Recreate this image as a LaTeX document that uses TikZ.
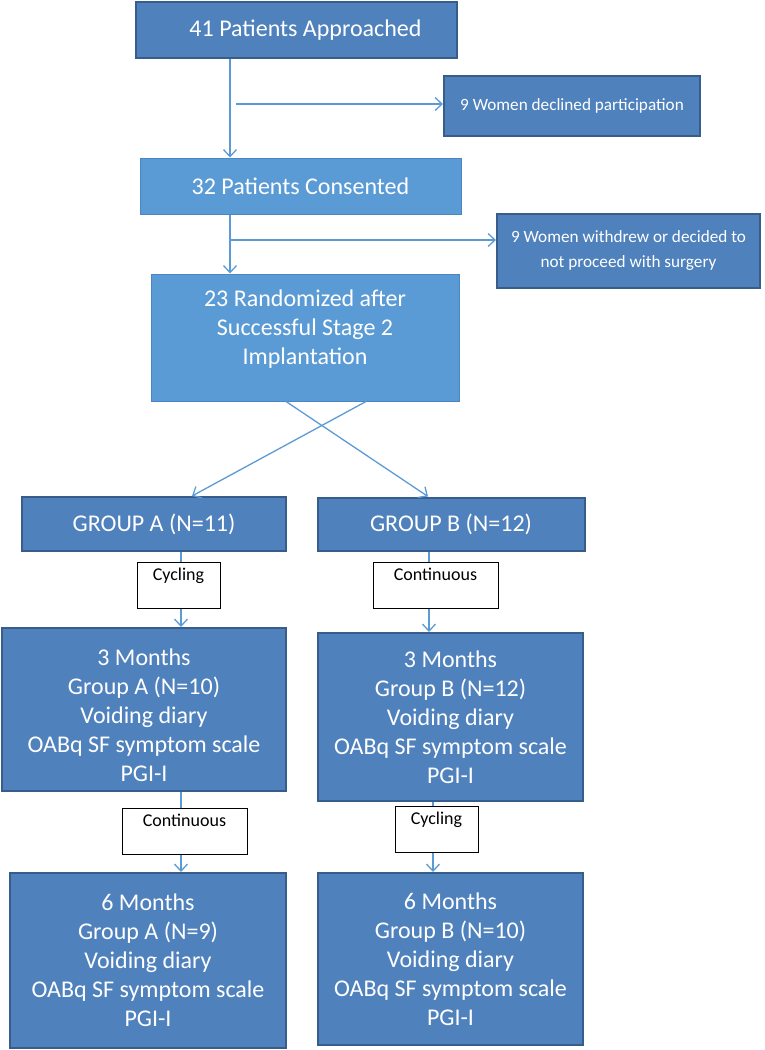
\documentclass[tikz,border=0pt]{standalone}
\usepackage{fontspec}
\setmainfont{Carlito}
\usetikzlibrary{arrows.meta}
\definecolor{darkfill}{HTML}{4F81BD}
\definecolor{darkline}{HTML}{385D8A}
\definecolor{lightfill}{HTML}{5B9BD5}
\definecolor{lightline}{HTML}{4A86C3}
\definecolor{arrowcol}{HTML}{5B9BD5}
\tikzset{
  darkbox/.style={draw=darkline, line width=2pt, fill=darkfill, text=white, align=center,
    inner sep=2pt, font=\fontsize{24}{29}\selectfont},
  smallbox/.style={darkbox, font=\fontsize{17.2}{25}\selectfont},
  lightbox/.style={draw=lightline, line width=1pt, fill=lightfill, text=white, align=center,
    inner sep=2pt, font=\fontsize{24}{29}\selectfont},
  modebox/.style={draw=black, line width=0.8pt, fill=white, text=black, inner sep=4pt,
    font=\fontsize{18}{20}\selectfont, text height=14pt, text depth=24pt},
  arr/.style={draw=arrowcol, line width=1.3pt, -{Straight Barb[length=7pt,width=13pt]}}
}
\begin{document}
\begin{tikzpicture}[x=1pt,y=-1pt]
            \useasboundingbox (0,0) rectangle (765,1050);
            % enrolment
            \node[darkbox, minimum width=321, minimum height=56] (appr) at (296.5,30) {\hspace*{18pt}41 Patients Approached};
            \node[smallbox, minimum width=256, minimum height=60] (decl) at (572,106) {9 Women declined participation};
            \node[lightbox, minimum width=321, minimum height=56] (cons) at (300.5,186) {32 Patients Consented};
            \node[smallbox, minimum width=263, minimum height=74] (wdrw) at (628.5,251) {9 Women withdrew or decided to\\not proceed with surgery};
            \node[lightbox, minimum width=308, minimum height=127] (rand) at (305,337.5) {23 Randomized after\\Successful Stage 2\\Implantation\\[-9pt]\mbox{}};
            % groups
            \node[darkbox, minimum width=264, minimum height=54] (grpA) at (154,524) {GROUP A (N=11)};
            \node[darkbox, minimum width=267, minimum height=53] (grpB) at (451,524) {GROUP B (N=12)};
            \node[darkbox, minimum width=284, minimum height=163] (mthA3) at (144,709.5) {\mbox{}\\3 Months\\Group A (N=10)\\Voiding diary\\OABq SF symptom scale\\PGI-I};
            \node[darkbox, minimum width=265, minimum height=168] (mthB3) at (450.5,717) {3 Months\\Group B (N=12)\\Voiding diary\\OABq SF symptom scale\\PGI-I};
            \node[darkbox, minimum width=276, minimum height=175] (mthA6) at (148,960.5) {6 Months\\Group A (N=9)\\Voiding diary\\OABq SF symptom scale\\PGI-I};
            \node[darkbox, minimum width=265, minimum height=172] (mthB6) at (450.5,959) {6 Months\\Group B (N=10)\\Voiding diary\\OABq SF symptom scale\\PGI-I};
            % connectors
            \coordinate (vtop) at (230,0);
            \coordinate (hdecl) at (236,104);
            \coordinate (hwdrw) at (230,240);
            \coordinate (vA) at (181,0);
            \coordinate (vB1) at (429,0);
            \coordinate (vB2) at (433,0);
            \draw[arr] (appr.south -| vtop) -- (cons.north -| vtop);
            \draw[arr] (hdecl) -- (hdecl -| decl.west);
            \draw[arr] (cons.south -| vtop) -- (rand.north -| vtop);
            \draw[arr] (hwdrw) -- (hwdrw -| wdrw.west);
            \draw[arr] ([xshift=61pt]rand.south) -- ([xshift=38pt]grpA.north);
            \draw[arr] ([xshift=-19pt]rand.south) -- ([xshift=-23pt]grpB.north);
            \draw[arr] (grpA.south -| vA) -- (mthA3.north -| vA);
            \draw[arr] (grpB.south -| vB1) -- (mthB3.north -| vB1);
            \draw[arr] (mthA3.south -| vA) -- (mthA6.north -| vA);
            \draw[arr] (mthB3.south -| vB2) -- (mthB6.north -| vB2);
            % stimulation mode
            \node[modebox, minimum width=83] (cycA) at (178.5,585) {Cycling};
            \node[modebox, minimum width=125] (contB) at (435.5,585) {Continuous};
            \node[modebox, minimum width=125] (contA) at (184.5,831.5) {Continuous};
            \node[modebox, minimum width=83] (cycB) at (436.5,829) {Cycling};
          \end{tikzpicture}
\end{document}
